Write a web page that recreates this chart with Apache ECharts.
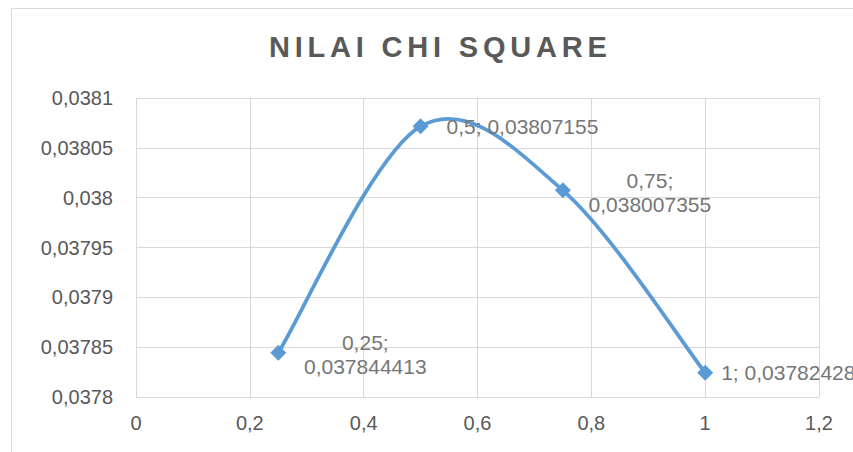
<!DOCTYPE html>
<html>
<head>
<meta charset="utf-8">
<script src="https://cdn.jsdelivr.net/npm/echarts@6/dist/echarts.min.js"></script>
<style>
  html, body { margin: 0; padding: 0; background: #fff; }
  #chart { width: 853px; height: 452px; }
</style>
</head>
<body>
<div id="chart"></div>
<script>
// Chi-square value per parameter step
const titleText = 'NILAI CHI SQUARE';
const xValues = [0.25, 0.5, 0.75, 1];
const chiValues = [0.037844413, 0.03807155, 0.038007355, 0.03782428];
// two-line labels are centred beside the marker
const labelBreak = [true, false, true, false];

const yMin = 0.0378, yMax = 0.0381, yStep = 0.00005;
const xMin = 0, xMax = 1.2, xStep = 0.2;

const lineColor = '#5b9bd5';
const toComma = v => String(v).replace('.', ',');
const fmtAxis = v => toComma(parseFloat(v.toPrecision(6)));

const points = xValues.map((x, i) => [x, chiValues[i]]);

const labelStyles = [
  { position: 'inside', offset: [87, 2], align: 'center' },
  { position: 'right', distance: 18 },
  { position: 'inside', offset: [87, 2], align: 'center' },
  { position: 'right', distance: 8 }
];

const markerData = points.map((p, i) => ({
  value: p,
  label: Object.assign({
    formatter: toComma(p[0]) + (labelBreak[i] ? ';\n' : '; ') + toComma(p[1])
  }, labelStyles[i])
}));

// Smoothed connector: cubic Bezier segments whose control points follow
// the neighbouring points (tangent = (next - prev) / 6), in pixel space.
function renderSegment(params, api) {
  const i = params.dataIndex;
  if (i >= points.length - 1) return null;
  const px = points.map(p => api.coord(p));
  const prev = px[Math.max(i - 1, 0)];
  const p0 = px[i];
  const p1 = px[i + 1];
  const next = px[Math.min(i + 2, px.length - 1)];
  return {
    type: 'bezierCurve',
    shape: {
      x1: p0[0], y1: p0[1],
      cpx1: p0[0] + (p1[0] - prev[0]) / 6,
      cpy1: p0[1] + (p1[1] - prev[1]) / 6,
      cpx2: p1[0] - (next[0] - p0[0]) / 6,
      cpy2: p1[1] - (next[1] - p0[1]) / 6,
      x2: p1[0], y2: p1[1]
    },
    style: { fill: null, stroke: lineColor, lineWidth: 3.75, lineCap: 'round' },
    silent: true
  };
}

const chart = echarts.init(document.getElementById('chart'), null, { renderer: 'svg' });
chart.setOption({
  animation: false,
  backgroundColor: '#ffffff',
  textStyle: { fontFamily: 'Liberation Sans, Arial, sans-serif' },
  title: {
    text: titleText,
    left: 264,
    top: 27,
    textStyle: { fontSize: 29, fontWeight: 'bold', color: '#595959', fontFamily: 'Liberation Sans, Arial, sans-serif' }
  },
  graphic: [{
    type: 'rect',
    shape: { x: 11.5, y: 8.5, width: 1000, height: 1000 },
    style: { fill: 'none', stroke: '#d9d9d9', lineWidth: 1 },
    silent: true,
    z: -10
  }],
  grid: { left: 136, right: 34, top: 98, bottom: 55 },
  xAxis: {
    type: 'value',
    min: xMin, max: xMax, interval: xStep,
    axisLine: { show: false },
    axisTick: { show: false },
    splitLine: { show: true, lineStyle: { color: '#d9d9d9', width: 1 } },
    axisLabel: {
      color: '#595959', fontSize: 20, margin: 16,
      formatter: v => toComma(parseFloat(v.toFixed(1)))
    }
  },
  yAxis: {
    type: 'value',
    min: yMin, max: yMax, interval: yStep,
    axisLine: { show: false },
    axisTick: { show: false },
    splitLine: { show: true, lineStyle: { color: '#d9d9d9', width: 1 } },
    axisLabel: { color: '#595959', fontSize: 20, margin: 23, formatter: fmtAxis }
  },
  series: [{
    type: 'custom',
    data: points,
    renderItem: renderSegment,
    clip: false,
    z: 2
  }, {
    type: 'scatter',
    data: markerData,
    symbol: 'diamond',
    symbolSize: 16,
    itemStyle: { color: lineColor, opacity: 1 },
    label: { show: true, color: '#767676', fontSize: 21, lineHeight: 24 },
    z: 3
  }]
});

// spread the title letters the way the heading is set
const svg = document.querySelector('#chart svg');
if (svg) {
  svg.querySelectorAll('text').forEach(t => {
    if (t.textContent === titleText) t.setAttribute('letter-spacing', '4.8');
  });
}
</script>
</body>
</html>
